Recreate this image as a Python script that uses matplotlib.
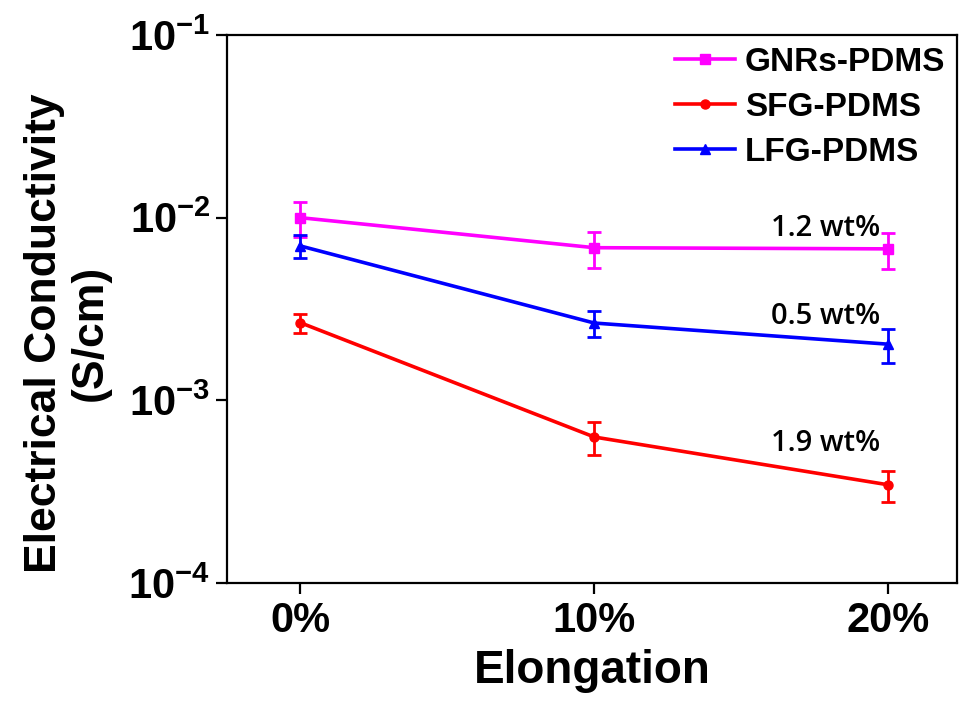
import numpy as np
import matplotlib.pyplot as plt

plt.rcParams['font.family'] = ['Liberation Sans', 'DejaVu Sans']
plt.rcParams['font.weight'] = 'bold'
plt.rcParams['mathtext.fontset'] = 'custom'
plt.rcParams['mathtext.rm'] = 'Liberation Sans:bold'
plt.rcParams['mathtext.bf'] = 'Liberation Sans:bold'

elongation = ['0%', '10%', '20%']
labels = ['GNRs-PDMS', 'SFG-PDMS', 'LFG-PDMS']
gnrs = [1.0e-2, 6.85e-3, 6.75e-3]
gnrs_err = [2.2e-3, 1.55e-3, 1.5e-3]
sfg = [2.66e-3, 6.3e-4, 3.45e-4]
sfg_err = [3.2e-4, 1.3e-4, 6.8e-5]
lfg = [7.0e-3, 2.65e-3, 2.03e-3]
lfg_err = [1.0e-3, 4.2e-4, 4.3e-4]
notes = ['1.2 wt%', '0.5 wt%', '1.9 wt%']
note_y = [8.7e-3, 2.86e-3, 5.8e-4]

colors = ['#ff00ff', '#ff0000', '#0000ff']
markers = ['s', 'o', '^']

fig = plt.figure(figsize=(9.59, 7.06), dpi=100)
ax = fig.add_axes([0.2367, 0.1742, 0.7613, 0.7762])

x = np.arange(len(elongation))
handles = []
for y, err, lab, c, m in zip([gnrs, sfg, lfg], [gnrs_err, sfg_err, lfg_err],
                             labels, colors, markers):
    eb = ax.errorbar(x, y, yerr=err, color=c, marker=m, markersize=6.5, lw=2.6,
                     elinewidth=2.0, capsize=5, capthick=2.0, label=lab)
    handles.append(eb.lines[0])

for t, yv in zip(notes, note_y):
    ax.text(1.975, yv, t, ha='right', va='center', fontsize=21,
            family=['Open Sans', 'DejaVu Sans'], fontweight='semibold')

ax.set_yscale('log')
ax.set_ylim(1e-4, 1e-1)
ax.set_xlim(-0.25, 2.235)
ax.set_yticks([1e-4, 1e-3, 1e-2, 1e-1])
ax.set_yticklabels([r'$\mathbf{10^{-4}}$', r'$\mathbf{10^{-3}}$',
                    r'$\mathbf{10^{-2}}$', r'$\mathbf{10^{-1}}$'])
ax.minorticks_off()
ax.set_xticks(x)
ax.set_xticklabels(elongation)
ax.tick_params(axis='y', labelsize=30, width=1.6, length=8, pad=4)
ax.tick_params(axis='x', labelsize=30, width=1.6, length=8, pad=5)
for s in ax.spines.values():
    s.set_linewidth(1.6)

ax.set_xlabel('Elongation', fontsize=33, fontweight='bold', labelpad=6)
fig.text(67 / 959, 1 - 333 / 706, 'Electrical Conductivity\n(S/cm)', rotation=90,
         ha='center', va='center', fontsize=32, fontweight='bold',
         multialignment='center', linespacing=1.15)

ax.legend(handles=handles, labels=labels, loc='upper right', frameon=False,
          handlelength=1.8, handletextpad=0.3, labelspacing=0.42,
          borderaxespad=0.05, borderpad=0.3, prop={'size': 24, 'weight': 'bold'})

fig.savefig('out.png', dpi=100)
